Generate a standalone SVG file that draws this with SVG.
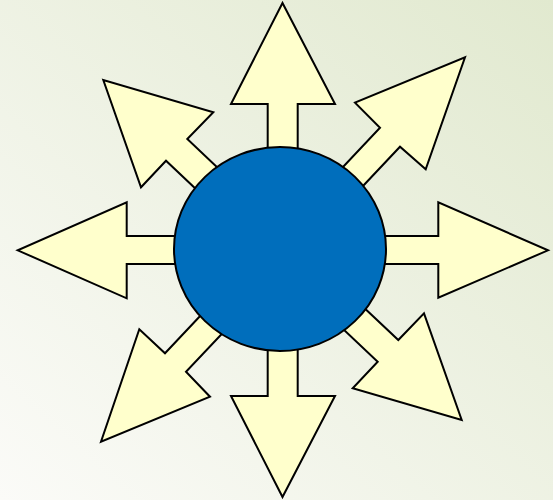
<svg xmlns="http://www.w3.org/2000/svg" width="553" height="500" viewBox="0 0 553 500">
<defs>
<linearGradient id="bg" x1="0" y1="1" x2="1" y2="0">
<stop offset="0" stop-color="#fbfbf8"/>
<stop offset="1" stop-color="#e1e9cf"/>
</linearGradient>
<style>
.arrow{fill:#ffffcc;stroke:#000;stroke-width:2;stroke-linejoin:miter}
.hub{fill:#006ebc;stroke:#000;stroke-width:2}
</style>
</defs>
<rect width="553" height="500" fill="url(#bg)"/>
<g id="connectors">
<polygon id="arrow-n" class="arrow" points="267.7,250 267.7,104 231,104 282.5,3 335,104 297.7,104 297.7,250"/>
<polygon id="arrow-s" class="arrow" points="267.7,250 267.7,396 231,396 282.5,497 335,396 297.7,396 297.7,250"/>
<polygon id="arrow-e" class="arrow" points="282,236 438.3,236 438.3,202.3 548,250.3 438.3,297.7 438.3,264 282,264"/>
<polygon id="arrow-w" class="arrow" points="282,236 126.7,236 126.7,202.3 17.7,250.3 126.7,298.3 126.7,264 282,264"/>
<polygon id="arrow-ne" class="arrow" points="277,237 380,127.7 355,102.7 465,57.3 425.7,169.3 400,146.7 297,256"/>
<polygon id="arrow-nw" class="arrow" points="296,242 187.3,139 213.3,112.3 103.3,80 141,187.3 166,160.7 275,264"/>
<polygon id="arrow-sw" class="arrow" points="268,244 165,353.3 139.3,329.3 101,441.7 210,396.7 186,371.7 289,263"/>
<polygon id="arrow-se" class="arrow" points="289,237 398.3,340 424,313.3 461.7,420 352.7,388.3 377.7,361.7 269,259"/>
</g>
<g id="hub">
<ellipse class="hub" cx="280" cy="249" rx="106" ry="102"/>
</g>
</svg>
